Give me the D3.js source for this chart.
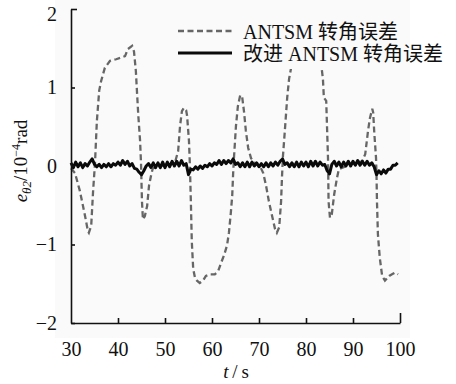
<!DOCTYPE html>
<html>
<head>
<meta charset="utf-8">
<script src="https://cdn.jsdelivr.net/npm/d3@7"></script>
<style>
  html, body { margin: 0; padding: 0; background: #ffffff; }
  svg { display: block; }
  text { font-family: "Liberation Serif", "Times New Roman", "Noto Sans CJK SC", serif; fill: #111; }
</style>
</head>
<body>
<svg id="chart" width="456" height="384"></svg>
<script>
// Steering angle error of the original ANTSM controller (dashed)
const tAntsm = [30.0, 30.85, 31.9, 33.0, 33.6, 33.8, 34.3, 34.7, 35.1, 35.5, 36.0, 36.4, 37.2, 38.3, 39.6, 40.6, 41.5, 42.1, 43.0, 43.4, 43.8, 44.3, 44.7, 44.9, 45.1, 45.3, 45.7, 46.2, 46.6, 47.0, 47.4, 48.9, 51.1, 52.1, 52.8, 53.2, 53.6, 54.0, 54.5, 54.7, 55.1, 55.3, 55.5, 55.7, 56.0, 56.4, 56.8, 57.4, 58.1, 58.7, 59.6, 60.6, 61.3, 61.9, 62.6, 63.2, 63.6, 64.0, 64.3, 64.5, 64.7, 65.1, 65.5, 66.0, 66.4, 66.8, 67.2, 67.7, 68.3, 69.1, 70.2, 70.9, 71.5, 72.1, 72.8, 73.4, 73.8, 74.3, 74.7, 74.9, 75.1, 75.5, 76.0, 76.4, 76.8, 77.7, 79.8, 82.0, 83.2, 83.6, 83.8, 84.3, 84.5, 84.7, 84.8, 85.1, 85.5, 86.0, 86.6, 87.0, 89.4, 91.9, 92.6, 93.2, 93.6, 94.1, 94.3, 94.5, 94.9, 95.0, 95.1, 95.3, 95.7, 96.2, 96.8, 97.7, 98.3, 98.9, 99.6];
const eAntsm = [-0.03, -0.09, -0.32, -0.64, -0.83, -0.85, -0.76, -0.32, 0.03, 0.57, 0.96, 1.08, 1.25, 1.34, 1.36, 1.38, 1.40, 1.49, 1.53, 1.46, 1.21, 0.66, 0.32, 0.03, -0.45, -0.68, -0.64, -0.51, -0.25, -0.13, -0.03, 0.00, 0.02, 0.04, 0.19, 0.51, 0.70, 0.74, 0.71, 0.64, 0.32, 0.00, -0.45, -0.96, -1.31, -1.43, -1.46, -1.49, -1.46, -1.40, -1.38, -1.38, -1.34, -1.24, -1.13, -1.01, -0.85, -0.60, -0.38, -0.09, 0.13, 0.51, 0.76, 0.90, 0.89, 0.70, 0.45, 0.23, 0.10, 0.04, 0.00, -0.09, -0.25, -0.45, -0.64, -0.80, -0.85, -0.78, -0.45, -0.13, 0.13, 0.45, 0.87, 1.11, 1.24, 1.34, 1.38, 1.36, 1.31, 1.11, 0.87, 0.83, 0.45, 0.06, -0.45, -0.66, -0.61, -0.36, -0.15, -0.04, 0.02, 0.06, 0.15, 0.45, 0.61, 0.73, 0.68, 0.45, 0.10, -0.10, -0.45, -0.87, -1.17, -1.40, -1.46, -1.40, -1.38, -1.36, -1.38];

// Steering angle error of the improved ANTSM controller (solid), sampled every 0.5 s
const tImproved = [
  30.0, 30.5, 31.0, 31.5, 32.0, 32.5, 33.0, 33.5, 34.0, 34.5,
  35.0, 35.5, 36.0, 36.5, 37.0, 37.5, 38.0, 38.5, 39.0, 39.5,
  40.0, 40.5, 41.0, 41.5, 42.0, 42.5, 43.0, 43.5, 44.0, 44.5,
  45.0, 45.5, 46.0, 46.5, 47.0, 47.5, 48.0, 48.5, 49.0, 49.5,
  50.0, 50.5, 51.0, 51.5, 52.0, 52.5, 53.0, 53.5, 54.0, 54.5,
  55.0, 55.5, 56.0, 56.5, 57.0, 57.5, 58.0, 58.5, 59.0, 59.5,
  60.0, 60.5, 61.0, 61.5, 62.0, 62.5, 63.0, 63.5, 64.0, 64.5,
  65.0, 65.5, 66.0, 66.5, 67.0, 67.5, 68.0, 68.5, 69.0, 69.5,
  70.0, 70.5, 71.0, 71.5, 72.0, 72.5, 73.0, 73.5, 74.0, 74.5,
  75.0, 75.5, 76.0, 76.5, 77.0, 77.5, 78.0, 78.5, 79.0, 79.5,
  80.0, 80.5, 81.0, 81.5, 82.0, 82.5, 83.0, 83.5, 84.0, 84.5,
  85.0, 85.5, 86.0, 86.5, 87.0, 87.5, 88.0, 88.5, 89.0, 89.5,
  90.0, 90.5, 91.0, 91.5, 92.0, 92.5, 93.0, 93.5, 94.0, 94.5,
  95.0, 95.5, 96.0, 96.5, 97.0, 97.5, 98.0, 98.5, 99.0, 99.5
];
const eImproved = [
  0.04, -0.02, 0.05, -0.01, 0.04, -0.02, 0.03, 0.00, 0.05, 0.09,
  0.02, -0.01, 0.02, -0.02, 0.02, -0.01, 0.03, -0.01, 0.03, 0.01,
  0.05, 0.01, 0.07, 0.02, 0.06, 0.00, 0.03, -0.03, -0.04, -0.08,
  -0.11, -0.06, 0.00, 0.03, -0.02, 0.04, -0.02, 0.04, -0.02, 0.05,
  -0.02, 0.05, -0.01, 0.06, 0.00, 0.06, 0.00, 0.07, 0.01, 0.03,
  -0.11, -0.04, -0.05, -0.01, -0.04, 0.00, -0.03, 0.01, -0.01, 0.03,
  0.00, 0.04, 0.02, 0.07, 0.02, 0.07, 0.03, 0.07, 0.04, 0.09,
  0.02, 0.04, -0.01, 0.04, -0.01, 0.05, -0.01, 0.05, 0.00, 0.04,
  -0.01, 0.03, -0.01, 0.04, -0.01, 0.04, 0.00, 0.05, 0.01, 0.06,
  0.09, 0.02, 0.04, -0.01, 0.04, -0.01, 0.05, -0.01, 0.05, 0.00,
  0.05, -0.01, 0.06, 0.00, 0.06, 0.00, 0.05, 0.01, 0.02, -0.06,
  -0.10, 0.02, 0.06, 0.00, 0.05, -0.01, 0.05, 0.00, 0.06, 0.00,
  0.06, 0.01, 0.07, 0.01, 0.06, 0.01, 0.06, 0.01, 0.04, -0.01,
  -0.11, -0.06, -0.10, -0.05, -0.09, -0.04, -0.04, 0.01, 0.01, 0.04
];

// Axis ticks
const xTicks = [30, 40, 50, 60, 70, 80, 90, 100];
const yTicks = [-2, -1, 0, 1, 2];

// Legend entries
const legendLabels = ["ANTSM 转角误差", "改进 ANTSM 转角误差"];

const svg = d3.select("#chart");

const x = d3.scaleLinear().domain([30, 100]).range([71, 400]);
const y = d3.scaleLinear().domain([-2, 2]).range([323, 9]);

// faint plot panel tint
svg.append("rect")
  .attr("x", 55).attr("y", 0).attr("width", 355).attr("height", 338)
  .attr("fill", "#fafafa");

const line = d3.line()
  .x(d => x(d[0]))
  .y(d => y(d[1]));

svg.append("path")
  .datum(tAntsm.map((t, i) => [t, eAntsm[i]]))
  .attr("d", line)
  .attr("fill", "none")
  .attr("stroke", "#666666")
  .attr("stroke-width", 2.3)
  .attr("stroke-dasharray", "6,3.5");

svg.append("path")
  .datum(tImproved.map((t, i) => [t, eImproved[i]]))
  .attr("d", line)
  .attr("fill", "none")
  .attr("stroke", "#0a0a0a")
  .attr("stroke-width", 3)
  .attr("stroke-linejoin", "round");

// Axes with inward ticks
const xAxis = svg.append("g")
  .attr("transform", `translate(0,${y(-2)})`)
  .call(d3.axisBottom(x).tickValues(xTicks).tickSizeInner(-5).tickSizeOuter(0).tickPadding(19).tickFormat(d3.format("d")));
xAxis.selectAll(".tick line").filter(d => d === 100).attr("y2", -10);
xAxis.selectAll(".tick line").filter(d => d === 30).remove();

const yAxis = svg.append("g")
  .attr("transform", `translate(${x(30)},0)`)
  .call(d3.axisLeft(y).tickValues(yTicks).tickSizeInner(-4).tickSizeOuter(0).tickPadding(14)
    .tickFormat(d => d < 0 ? "\u2212" + Math.abs(d) : String(d)));
yAxis.selectAll(".tick line").filter(d => d === 2).attr("x2", 6);
// top label sits a little below its tick so it stays inside the frame
yAxis.selectAll(".tick text").filter(d => d === 2).attr("y", 5);

[xAxis, yAxis].forEach(g => {
  g.select(".domain").attr("stroke", "#111").attr("stroke-width", 1.6);
  g.selectAll(".tick line").attr("stroke", "#111").attr("stroke-width", 1.6);
  g.selectAll(".tick text")
    .attr("font-family", "'Liberation Serif', 'Times New Roman', serif")
    .attr("font-size", 20)
    .attr("fill", "#111");
});

// Axis titles
const xt = svg.append("text")
  .attr("x", 236).attr("y", 378)
  .attr("text-anchor", "middle")
  .attr("font-size", 19);
xt.append("tspan").attr("font-style", "italic").text("t");
xt.append("tspan").text("\u2009/\u2009s");

const yt = svg.append("text")
  .attr("transform", "translate(27,161) rotate(-90)")
  .attr("text-anchor", "middle")
  .attr("font-size", 19);
yt.append("tspan").attr("font-style", "italic").text("e");
yt.append("tspan").attr("font-style", "italic").attr("font-size", 13).attr("dy", 4).text("θ2");
yt.append("tspan").attr("dy", -4).text("/10");
yt.append("tspan").attr("font-size", 12).attr("dy", -7).text("\u22124");
yt.append("tspan").attr("dy", 7).text("rad");

// Legend
svg.append("rect")
  .attr("x", 172).attr("y", 12).attr("width", 238).attr("height", 57)
  .attr("fill", "#fafafa");
svg.append("rect")
  .attr("x", 410).attr("y", 12).attr("width", 42).attr("height", 57)
  .attr("fill", "#ffffff");

const legendStyles = [
  { stroke: "#666666", width: 2.3, dash: "6,3.5" },
  { stroke: "#0a0a0a", width: 3, dash: null }
];
const legend = svg.append("g");
legendLabels.forEach((label, i) => {
  const cy = 31 + i * 22;
  legend.append("line")
    .attr("x1", 178).attr("x2", 232).attr("y1", cy).attr("y2", cy)
    .attr("stroke", legendStyles[i].stroke)
    .attr("stroke-width", legendStyles[i].width)
    .attr("stroke-dasharray", legendStyles[i].dash);
  legend.append("text")
    .attr("x", 243).attr("y", cy + 8)
    .attr("font-size", 20)
    .text(label);
});
</script>
</body>
</html>
